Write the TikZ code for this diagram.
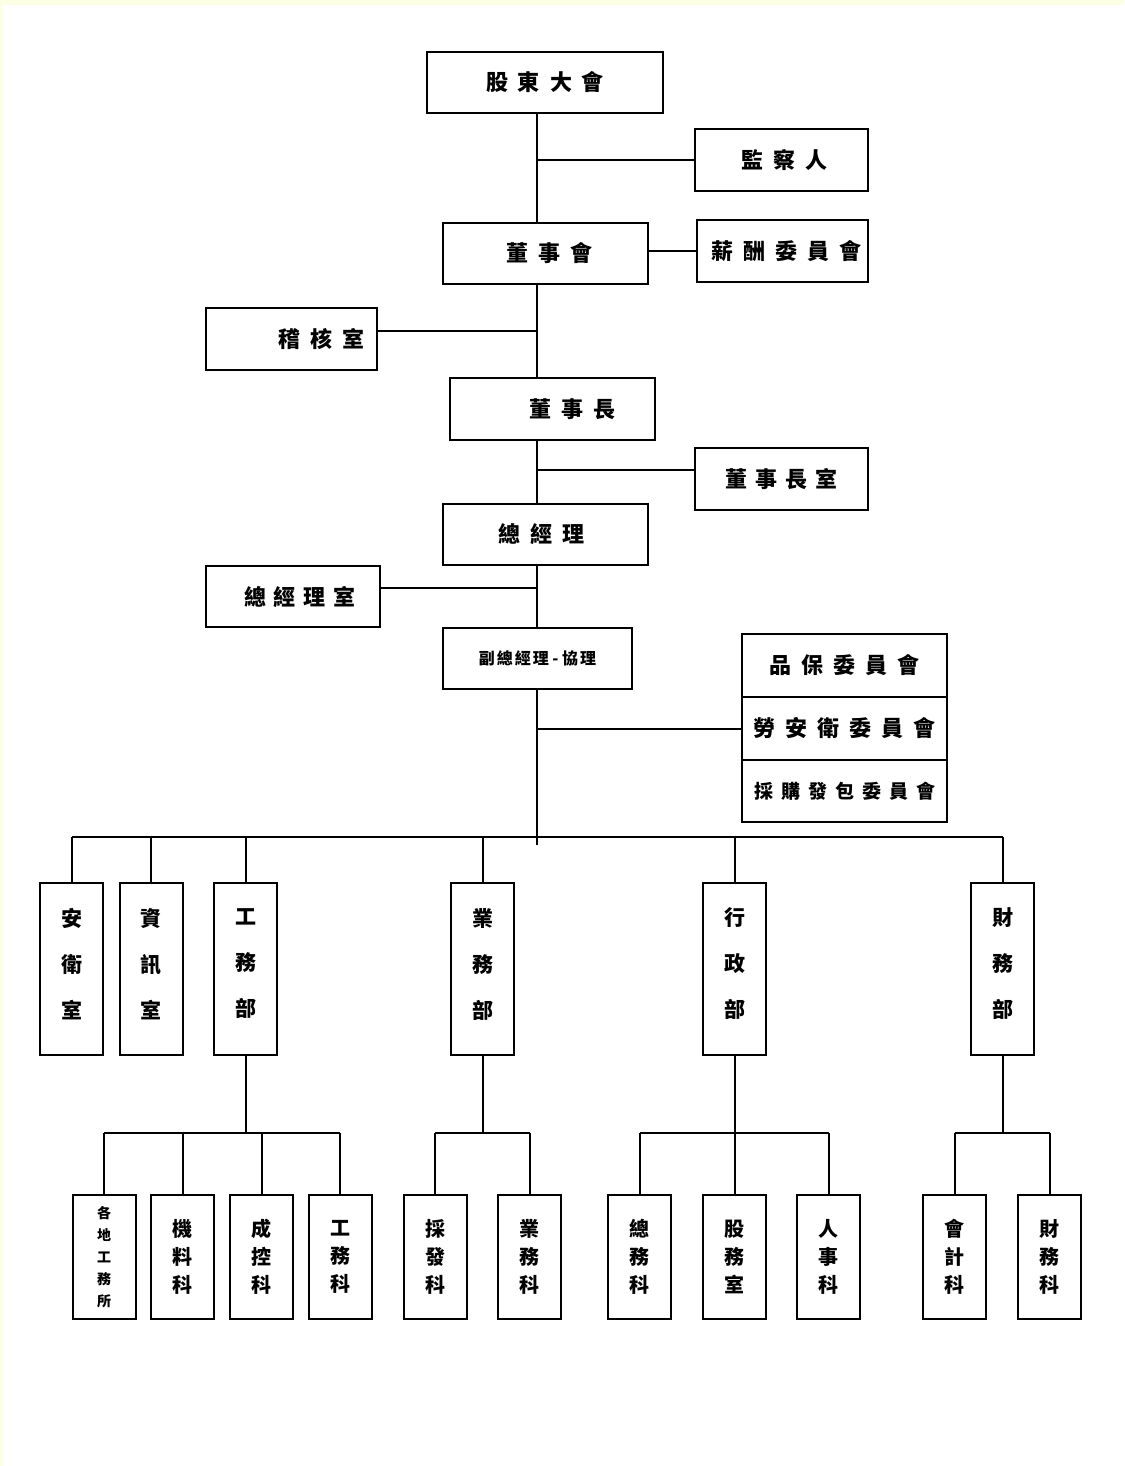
\documentclass[tikz,border=0pt]{standalone}
\usepackage{fontspec}
\setmainfont{Noto Sans CJK TC}
\definecolor{bgyellow}{RGB}{253,255,228}
\newcommand\gp{\hspace{10pt}}
\newcommand\gq{\hspace{8pt}}
\begin{document}
\begin{tikzpicture}[x=1pt,y=-1pt,
  box/.style={draw,line width=2pt,inner sep=0pt,font=\fontsize{22}{26}\selectfont\bfseries},
  hbox/.style={box,minimum height=62pt},
  dept/.style={box,minimum width=63pt,minimum height=172pt,align=center,font=\fontsize{21}{46}\selectfont\bfseries},
  sub/.style={box,minimum width=63pt,minimum height=124pt,align=center,font=\fontsize{20}{28}\selectfont\bfseries},
  ln/.style={line width=2pt}]
\fill[bgyellow] (0,0) rectangle (1124,1466);
\fill[white] (3,5) rectangle (1124,1466);
\useasboundingbox (0,0) rectangle (1124,1466);

\coordinate (tk) at (537,0);
\coordinate (tkend) at (537,845);
\coordinate (bus) at (0,837);
\coordinate (sb) at (0,1133);

% top column
\node[hbox,minimum width=236pt,minimum height=61pt] (gd) at (545,82.5) {股\gp 東\gp 大\gp 會};
\node[hbox,minimum width=173pt] (jcr) at (781.5,160) {\hspace*{6pt}監\gp 察\gp 人};
\node[hbox,minimum width=205pt,minimum height=61pt] (dsh) at (545.5,253.5) {\hspace*{8pt}董\gp 事\gp 會};
\node[hbox,minimum width=171pt] (xc) at (782.5,251) {\hspace*{8pt}薪\gp 酬\gp 委\gp 員\gp 會};
\node[hbox,minimum width=171pt] (jh) at (291.5,339) {\hspace*{60pt}稽\gp 核\gp 室};
\node[hbox,minimum width=205pt] (dsz) at (552.5,409) {\hspace*{40pt}董\gp 事\gp 長};
\node[hbox,minimum width=173pt] (dszs) at (781.5,479) {董\gq 事\gq 長\gq 室};
\node[hbox,minimum width=205pt,minimum height=61pt] (zjl) at (545.5,534.5) {總\gp 經\gp 理\hspace*{8pt}};
\node[hbox,minimum width=174pt,minimum height=61pt] (zjls) at (293,596.5) {\hspace*{14pt}總\gq 經\gq 理\gq 室};
\node[hbox,minimum width=189pt,minimum height=61pt,font=\fontsize{16}{20}\selectfont\bfseries] (fz) at (537.5,658.5) {副\hspace{2pt}總\hspace{2pt}經\hspace{2pt}理 - 協\hspace{2pt}理};
\node[hbox,minimum width=205pt,minimum height=63pt] (pb) at (844.5,665.5) {品\gp 保\gp 委\gp 員\gp 會};
\node[hbox,minimum width=205pt,minimum height=63pt] (la) at (844.5,728.5) {勞\gp 安\gp 衛\gp 委\gp 員\gp 會};
\node[hbox,minimum width=205pt,minimum height=62pt,font=\fontsize{19}{23}\selectfont\bfseries] (cg) at (844.5,791) {採\gq 購\gq 發\gq 包\gq 委\gq 員\gq 會};

% departments
\node[dept] (aw) at (71.5,969) {安\\衛\\室\\[-34pt]\mbox{}};
\node[dept] (zx) at (151,969) {資\\訊\\室\\[-34pt]\mbox{}};
\node[dept] (gw) at (245.5,969) {工\\務\\部\\[-34pt]\mbox{}};
\node[dept] (yw) at (482.5,969) {業\\務\\部\\[-34pt]\mbox{}};
\node[dept] (xz) at (734.5,969) {行\\政\\部\\[-34pt]\mbox{}};
\node[dept] (cw) at (1002.5,969) {財\\務\\部\\[-34pt]\mbox{}};

% sections
\node[sub,font=\fontsize{14}{22}\selectfont\bfseries] (gd1) at (104,1257) {各\\地\\工\\務\\所};
\node[sub] (jl) at (182.5,1257) {機\\料\\科};
\node[sub] (ck) at (261.5,1257) {成\\控\\科};
\node[sub] (gwk) at (340,1257) {工\\務\\科};
\node[sub] (cf) at (435,1257) {採\\發\\科};
\node[sub] (ywk) at (529.5,1257) {業\\務\\科};
\node[sub] (zw) at (639.5,1257) {總\\務\\科};
\node[sub] (gws) at (734.5,1257) {股\\務\\室};
\node[sub] (rs) at (828.5,1257) {人\\事\\科};
\node[sub] (kj) at (954.5,1257) {會\\計\\科};
\node[sub] (cwk) at (1049.5,1257) {財\\務\\科};

% connectors
\draw[ln] (gd.south -| tk) -- (dsh.north -| tk);
\draw[ln] (tk |- jcr.west) -- (jcr.west);
\draw[ln] (dsh.east |- xc.west) -- (xc.west);
\draw[ln] (dsh.south -| tk) -- (dsz.north -| tk);
\draw[ln] ([yshift=8pt]jh.east) -- ([yshift=8pt]jh.east -| tk);
\draw[ln] (dsz.south -| tk) -- (zjl.north -| tk);
\draw[ln] ([yshift=9pt]dszs.west) -- ([yshift=9pt]dszs.west -| tk);
\draw[ln] (zjl.south -| tk) -- (fz.north -| tk);
\draw[ln] ([yshift=8.5pt]zjls.east) -- ([yshift=8.5pt]zjls.east -| tk);
\draw[ln] (fz.south -| tk) -- (tkend);
\draw[ln] (tk |- la.west) -- (la.west);
\draw[ln] (aw.north |- bus) -- (cw.north |- bus);
\foreach \d in {aw,zx,gw,yw,xz,cw} \draw[ln] (\d.north) -- (\d.north |- bus);

\draw[ln] (gw.south) -- (gw.south |- sb);
\draw[ln] (gd1.north |- sb) -- (gwk.north |- sb);
\foreach \d in {gd1,jl,ck,gwk} \draw[ln] (\d.north) -- (\d.north |- sb);
\draw[ln] (yw.south) -- (yw.south |- sb);
\draw[ln] (cf.north |- sb) -- (ywk.north |- sb);
\foreach \d in {cf,ywk} \draw[ln] (\d.north) -- (\d.north |- sb);
\draw[ln] (xz.south) -- (xz.south |- sb);
\draw[ln] (zw.north |- sb) -- (rs.north |- sb);
\foreach \d in {zw,gws,rs} \draw[ln] (\d.north) -- (\d.north |- sb);
\draw[ln] (cw.south) -- (cw.south |- sb);
\draw[ln] (kj.north |- sb) -- (cwk.north |- sb);
\foreach \d in {kj,cwk} \draw[ln] (\d.north) -- (\d.north |- sb);
\end{tikzpicture}
\end{document}
